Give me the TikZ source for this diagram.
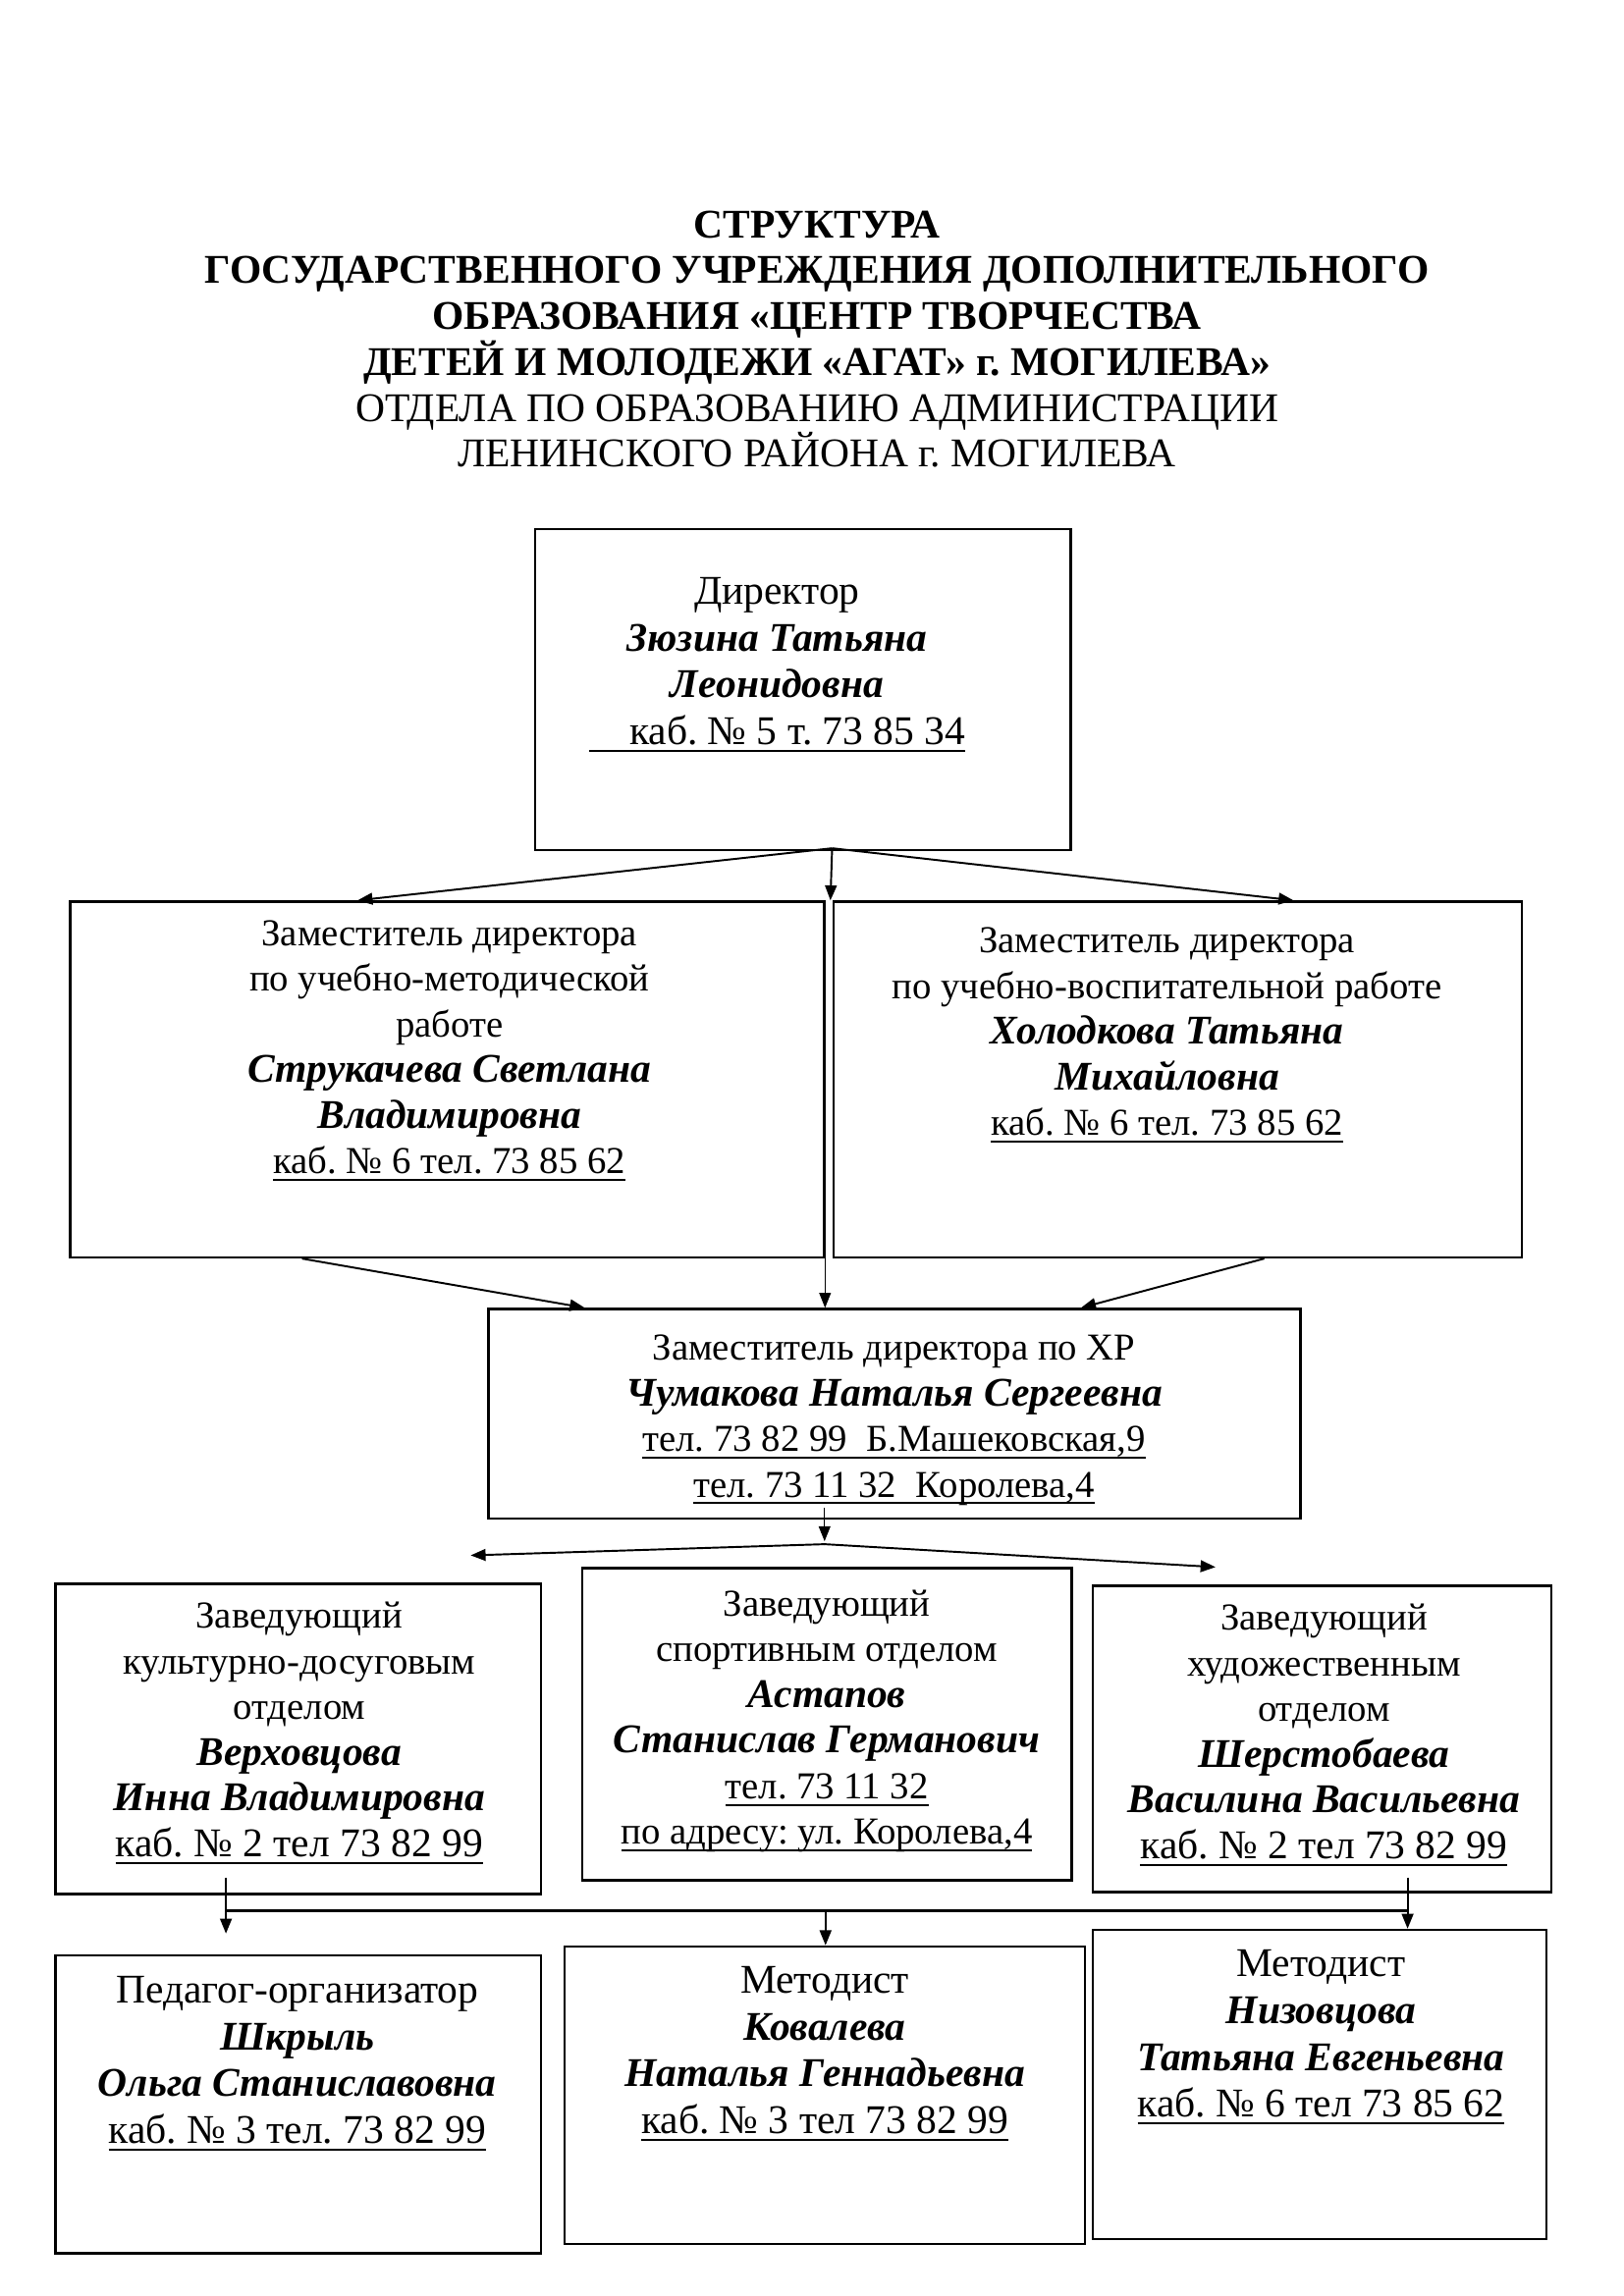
\documentclass[tikz,border=0pt]{standalone}
\usepackage{fontspec}
\setmainfont{Liberation Serif}
\usetikzlibrary{arrows.meta,fit,calc}
\frenchspacing
\newcommand{\nm}[1]{{\fontsize{15}{16.8}\selectfont\bfseries\itshape #1}}
\newcommand{\ul}[1]{\setbox0\hbox{#1}\rlap{\rule[-2.6pt]{\wd0}{0.75pt}}\box0}
\newcommand{\bigsz}{\fontsize{15}{16.8}\selectfont}
\begin{document}
\begin{tikzpicture}[x=0.1261mm,y=-0.1261mm,
  box/.style={draw, line width=0.9pt, inner sep=0pt},
  txt/.style={align=center, font=\fontsize{14}{16.8}\selectfont, inner sep=0pt},
  txtb/.style={align=center, font=\fontsize{15}{17.2}\selectfont, inner sep=0pt},
  arr/.style={-{Triangle[length=5.5pt,width=4.3pt]}, line width=0.7pt},
  thinarr/.style={-{Triangle[length=5.5pt,width=4.3pt]}, line width=0.4pt},
  ln/.style={line width=0.8pt}]
\fill[white] (0,0) rectangle (1665.3,2355.6);
\useasboundingbox (0,0) rectangle (1665.3,2355.6);

% title
\node[align=center, inner sep=0pt, font=\fontsize{15}{16.9}\selectfont] (title) at (838,348) {\textbf{СТРУКТУРА}\\
\textbf{ГОСУДАРСТВЕННОГО УЧРЕЖДЕНИЯ ДОПОЛНИТЕЛЬНОГО}\\
\textbf{ОБРАЗОВАНИЯ «ЦЕНТР ТВОРЧЕСТВА}\\
\textbf{ДЕТЕЙ И МОЛОДЕЖИ «АГАТ» г. МОГИЛЕВА»}\\
ОТДЕЛА ПО ОБРАЗОВАНИЮ АДМИНИСТРАЦИИ\\
ЛЕНИНСКОГО РАЙОНА г. МОГИЛЕВА};

% boxes
\node[box, fit={(549,543) (1098,872)}] (dir) {};
\node[box, fit={(72,925) (845,1290)}] (zl) {};
\node[box, fit={(855,925) (1561,1290)}] (zr) {};
\node[box, fit={(501,1343) (1334,1558)}] (xr) {};
\node[box, fit={(57,1625) (555,1943)}] (k1) {};
\node[box, fit={(597,1609) (1099,1929)}] (k2) {};
\node[box, fit={(1121,1627) (1591,1941)}] (k3) {};
\node[box, fit={(57,2006) (555,2312)}] (b1) {};
\node[box, fit={(579,1997) (1113,2302)}] (b2) {};
\node[box, fit={(1121,1980) (1586,2297)}] (b3) {};

% texts
\node[txtb] (dirt) at (797,682) {Директор\\ \nm{Зюзина Татьяна}\\ \nm{Леонидовна}\\
\ul{\hspace{1em}каб. № 5 т. 73 85 34}};
\node[txt] (zlt) at (461,1078) {Заместитель директора\\ по учебно-методической\\ работе\\
\nm{Струкачева Светлана}\\ \nm{Владимировна}\\ \ul{каб. № 6 тел. 73 85 62}};
\node[txt] (zrt) at (1197,1062) {Заместитель директора\\ по учебно-воспитательной работе\\
\nm{Холодкова Татьяна}\\ \nm{Михайловна}\\ \ul{каб. № 6 тел. 73 85 62}};
\node[txt] (xrt) at (917,1457) {Заместитель директора по ХР\\ \nm{Чумакова Наталья Сергеевна}\\
\ul{тел. 73 82 99\ \ Б.Машековская,9}\\ \ul{тел. 73 11 32\ \ Королева,4}};
\node[txt] (k1t) at (307,1778) {Заведующий\\ культурно-досуговым\\ отделом\\
\nm{Верховцова}\\ \nm{Инна Владимировна}\\ {\bigsz\ul{каб. № 2 тел 73 82 99}}};
\node[txt] (k2t) at (848,1766) {Заведующий\\ спортивным отделом\\ \nm{Астапов}\\
\nm{Станислав Германович}\\ \ul{тел. 73 11 32}\\ \ul{по адресу: ул. Королева,4}};
\node[txt] (k3t) at (1358,1780) {Заведующий\\ художественным\\ отделом\\
\nm{Шерстобаева}\\ \nm{Василина Васильевна}\\ {\bigsz\ul{каб. № 2 тел 73 82 99}}};
\node[txtb] (b1t) at (305,2117) {Педагог-организатор\\ \nm{Шкрыль}\\ \nm{Ольга Станиславовна}\\
\ul{каб. № 3 тел. 73 82 99}};
\node[txtb] (b2t) at (846,2107) {Методист\\ \nm{Ковалева}\\ \nm{Наталья Геннадьевна}\\
\ul{каб. № 3 тел 73 82 99}};
\node[txtb] (b3t) at (1355,2090) {Методист\\ \nm{Низовцова}\\ \nm{Татьяна Евгеньевна}\\
\ul{каб. № 6 тел 73 85 62}};

% connectors
\coordinate (o1) at ($(dir.south)+(30,-3)$);
\draw[arr] (o1) -- ($(zl.north west)+(296,0)$);
\draw[arr] (o1) -- ($(zr.north west)+(473,0)$);
\draw[arr] (o1) -- ($(zr.north west)+(-2,0)$);
\draw[thinarr] (zl.north east) -- (zl.north east |- xr.north);
\draw[arr] ($(zl.south west)+(239,0)$) -- ($(xr.north west)+(100,0)$);
\draw[arr] ($(zr.south west)+(443,0)$) -- ($(xr.north west)+(609,0)$);
\coordinate (fork2) at ($(xr.south west)+(346,25)$);
\draw[thinarr] ($(xr.south west)+(346,-12)$) -- ($(xr.south west)+(346,22)$);
\coordinate (e8) at ($(k1.north west)+(427,-28)$);
\coordinate (e9) at ($(k3.north west)+(127,-18)$);
\draw[arr] (fork2) -- (e8);
\draw[arr] (fork2) -- (e9);
\draw[arr] ($(k1.south west)+(176,-18)$) -- ($(b1.north west)+(176,-21)$);
\draw[ln] ($(k1.south west)+(176,16)$) -- ($(k3.south west)+(324,18)$);
\draw[arr] ($(k3.south west)+(324,-16)$) -- ($(b3.north west)+(324,0)$);
\draw[arr] ($(b2.north west)+(269,-35)$) -- ($(b2.north west)+(269,0)$);
\end{tikzpicture}
\end{document}
